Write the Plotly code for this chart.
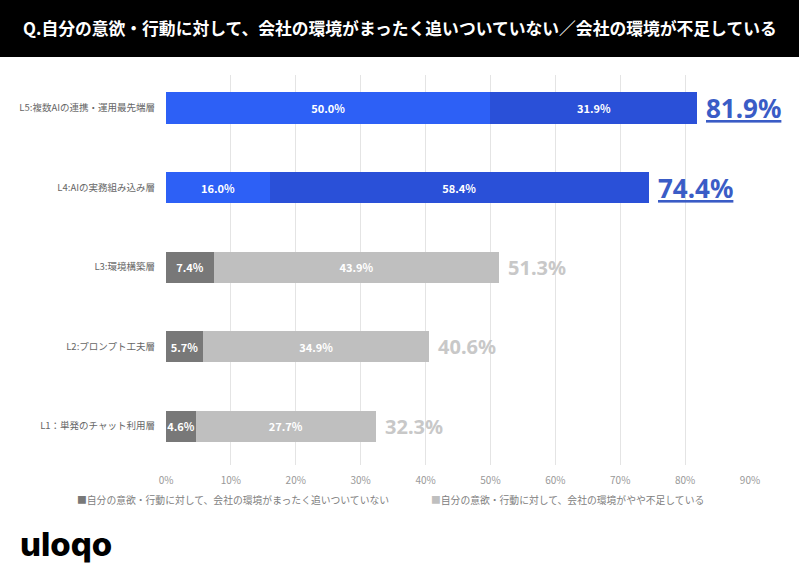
import plotly.graph_objects as go

categories = ["L1：単発のチャット利用層", "L2:プロンプト工夫層", "L3:環境構築層", "L4:AIの実務組み込み層", "L5:複数AIの連携・運用最先端層"]
gray_cats = categories[:3]
blue_cats = categories[3:]
gray_strong = [4.6, 5.7, 7.4]
gray_weak = [27.7, 34.9, 43.9]
blue_first = [16.0, 50.0]
blue_second = [58.4, 31.9]
totals = [32.3, 40.6, 51.3, 74.4, 81.9]
legend_names = ["自分の意欲・行動に対して、会社の環境がまったく追いついていない",
                "自分の意欲・行動に対して、会社の環境がやや不足している"]
title_text = "Q.自分の意欲・行動に対して、会社の環境がまったく追いついていない／会社の環境が不足している"
x_ticks = [0, 10, 20, 30, 40, 50, 60, 70, 80, 90]

JP = "Noto Sans CJK JP"
BW = 0.39
C_DARK, C_LIGHT = "#787878", "#bfbfbf"

def fmt(v):
    return [f"{x:.1f}%" for x in v]

fig = go.Figure()

def add_seg(cats, vals, color, size=12):
    fig.add_bar(y=cats, x=vals, orientation="h", showlegend=False,
                marker=dict(color=color, line=dict(width=0)), width=BW,
                text=fmt(vals), textposition="inside", insidetextanchor="middle",
                textangle=0, constraintext="none",
                textfont=dict(color="white", size=size, family=JP, weight="bold"),
                hoverinfo="skip")

add_seg(gray_cats, gray_strong, C_DARK)
add_seg(gray_cats, gray_weak, C_LIGHT)
add_seg(blue_cats, blue_first, "#2d60f6", 12)
add_seg(blue_cats, blue_second, "#2a50d8", 11)

for cat, t in zip(categories, totals):
    blue = cat in blue_cats
    fig.add_annotation(x=t, y=cat, xref="x", yref="y", text=f"{t:.1f}%", showarrow=False,
                       xanchor="left", yanchor="middle", xshift=7,
                       font=dict(family="Noto Sans", size=26 if blue else 20,
                                 color="#3a5cc6" if blue else "#c8c8c8", weight="bold",
                                 lineposition="under" if blue else "none"))

W, H = 799, 563
L, R, T, B = 166, 49, 75, 98
pw, ph = W - L - R, H - T - B

def px_x(px):
    return (px - L) / pw

def px_y(py):
    return (H - B - py) / ph

fig.add_shape(type="rect", xref="paper", yref="paper", x0=px_x(-5), x1=px_x(W + 5),
              y0=px_y(57), y1=px_y(-5), fillcolor="black", line=dict(width=0), layer="above")
fig.add_annotation(xref="paper", yref="paper", x=px_x(21), y=px_y(28), text=title_text,
                   showarrow=False, xanchor="left", yanchor="middle",
                   font=dict(family=JP, size=16.8, color="white", weight="bold"))
fig.add_annotation(xref="paper", yref="paper", x=px_x(18), y=px_y(544), text="uloqo",
                   showarrow=False, xanchor="left", yanchor="middle",
                   font=dict(family="Inter", size=33, color="black", weight=800))

# legend drawn as text entries
for name, color, lx in zip(legend_names, [C_DARK, C_LIGHT], [75, 429]):
    fig.add_annotation(xref="paper", yref="paper", x=px_x(lx), y=px_y(500),
                       text=f"<span style='color:{color}'>■</span>{name}",
                       showarrow=False, xanchor="left", yanchor="middle",
                       font=dict(family=JP, size=9.8, color="#808080"))

fig.update_layout(
    width=W, height=H, margin=dict(l=L, r=R, t=T, b=B),
    barmode="stack", paper_bgcolor="white", plot_bgcolor="white",
    font=dict(family=JP),
    uniformtext=dict(minsize=11, mode="show"),
    showlegend=False,
    xaxis=dict(range=[0, 90], tickvals=x_ticks, ticktext=[f"{v}%" for v in x_ticks],
               showgrid=True, gridcolor="#e4e4e4", gridwidth=1, zeroline=False,
               showline=False, tickfont=dict(size=10, color="#999999", family=JP),
               ticks="", ticklabelstandoff=8, fixedrange=True),
    yaxis=dict(type="category", categoryorder="array", categoryarray=categories,
               range=[-0.49, 4.415], showgrid=False, zeroline=False, showline=False,
               tickfont=dict(size=9.5, color="#666666", family=JP), ticks="",
               ticklabelstandoff=10),
)

fig.write_html("out.html")
